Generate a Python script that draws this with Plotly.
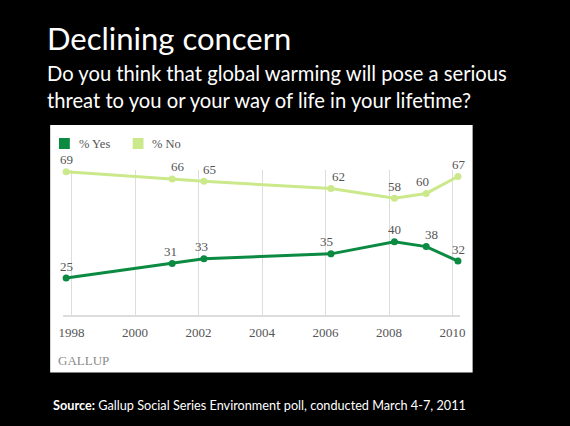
import plotly.graph_objects as go

# ---- data ----
years = [1997.83, 2001.17, 2002.17, 2006.17, 2008.17, 2009.17, 2010.17]
yes_vals = [25, 31, 33, 35, 40, 38, 32]
no_vals = [69, 66, 65, 62, 58, 60, 67]
tick_years = [1998, 2000, 2002, 2004, 2006, 2008, 2010]
tick_labels = ["1998", "2000", "2002", "2004", "2006", "2008", "2010"]

# ---- style ----
W, H = 570, 426
DARK = "#0b8a42"
LIGHT = "#cbe98b"
SERIF = "Liberation Serif, DejaVu Serif, serif"
SANS = "Lato, Open Sans, sans-serif"
yes_xshift = [0, -2, -2, -4, 0, 5, 1]
no_xshift = [0, 6, 6, 8, 0, -4, 1]

def px(x):
    return x / W

def py(y):
    return 1 - y / H

fig = go.Figure()
fig.add_trace(go.Scatter(x=years, y=no_vals, mode="lines+markers", name="% No",
                         line=dict(color=LIGHT, width=3), marker=dict(color=LIGHT, size=7),
                         cliponaxis=False, hoverinfo="skip"))
fig.add_trace(go.Scatter(x=years, y=yes_vals, mode="lines+markers", name="% Yes",
                         line=dict(color=DARK, width=3), marker=dict(color=DARK, size=7),
                         cliponaxis=False, hoverinfo="skip"))

annotations = []
for xv, yv, sh in zip(years, no_vals, no_xshift):
    annotations.append(dict(x=xv, y=yv, xref="x", yref="y", text=str(yv), showarrow=False,
                            xshift=sh, yshift=12, font=dict(family=SERIF, size=13, color="#555555")))
for xv, yv, sh in zip(years, yes_vals, yes_xshift):
    annotations.append(dict(x=xv, y=yv, xref="x", yref="y", text=str(yv), showarrow=False,
                            xshift=sh, yshift=12, font=dict(family=SERIF, size=13, color="#555555")))

# legend
annotations.append(dict(x=px(74), y=py(143.5), xref="paper", yref="paper", text="% Yes",
                        showarrow=False, xanchor="left", yanchor="middle",
                        font=dict(family=SERIF, size=12.5, color="#555555")))
annotations.append(dict(x=px(149), y=py(143.5), xref="paper", yref="paper", text="% No",
                        showarrow=False, xanchor="left", yanchor="middle",
                        font=dict(family=SERIF, size=12.5, color="#555555")))
# GALLUP logo text
annotations.append(dict(x=px(53), y=py(360), xref="paper", yref="paper", text="GALLUP",
                        showarrow=False, xanchor="left", yanchor="middle",
                        font=dict(family=SERIF, size=13, color="#8a8a8a")))
# titles
annotations.append(dict(x=px(42), y=py(38), xref="paper", yref="paper", text="Declining concern",
                        showarrow=False, xanchor="left", yanchor="middle",
                        font=dict(family=SANS, size=31, color="white")))
annotations.append(dict(x=px(42), y=py(73), xref="paper", yref="paper",
                        text="Do you think that global warming will pose a serious",
                        showarrow=False, xanchor="left", yanchor="middle",
                        font=dict(family=SANS, size=20.2, color="white")))
annotations.append(dict(x=px(42), y=py(100), xref="paper", yref="paper",
                        text="threat to you or your way of life in your lifetime?",
                        showarrow=False, xanchor="left", yanchor="middle",
                        font=dict(family=SANS, size=20.2, color="white")))
annotations.append(dict(x=px(48), y=py(405), xref="paper", yref="paper",
                        text="<b>Source:</b> Gallup Social Series Environment poll, conducted March 4-7, 2011",
                        showarrow=False, xanchor="left", yanchor="middle",
                        font=dict(family=SANS, size=12.7, color="white")))

shapes = [
    dict(type="rect", xref="paper", yref="paper", x0=px(47), x1=px(477), y0=py(372.5), y1=py(125),
         fillcolor="white", line=dict(width=0), layer="below"),
    dict(type="rect", xref="paper", yref="paper", x0=px(56), x1=px(67), y0=py(149), y1=py(138),
         fillcolor=DARK, line=dict(width=0)),
    dict(type="rect", xref="paper", yref="paper", x0=px(131), x1=px(142), y0=py(149), y1=py(138),
         fillcolor=LIGHT, line=dict(width=0)),
]

fig.update_layout(
    width=W, height=H, margin=dict(l=0, r=0, t=0, b=0),
    paper_bgcolor="black", plot_bgcolor="white", showlegend=False,
    annotations=annotations, shapes=shapes,
    xaxis=dict(domain=[px(60), px(464)], range=[1997.73, 2010.23], tickvals=tick_years,
               ticktext=tick_labels, showgrid=True, gridcolor="#dddddd", gridwidth=1,
               showline=True, linecolor="#dddddd", linewidth=2, zeroline=False, ticks="",
               tickfont=dict(family=SERIF, size=13, color="#555555"), ticklabelstandoff=4),
    yaxis=dict(domain=[py(315), py(170)], range=[9.7, 69.7], showgrid=False, showticklabels=False,
               zeroline=False, showline=False, ticks=""),
)

fig.write_html("out.html", config={"displayModeBar": False},
               post_script="document.body.style.margin='0';document.body.style.background='black';")
